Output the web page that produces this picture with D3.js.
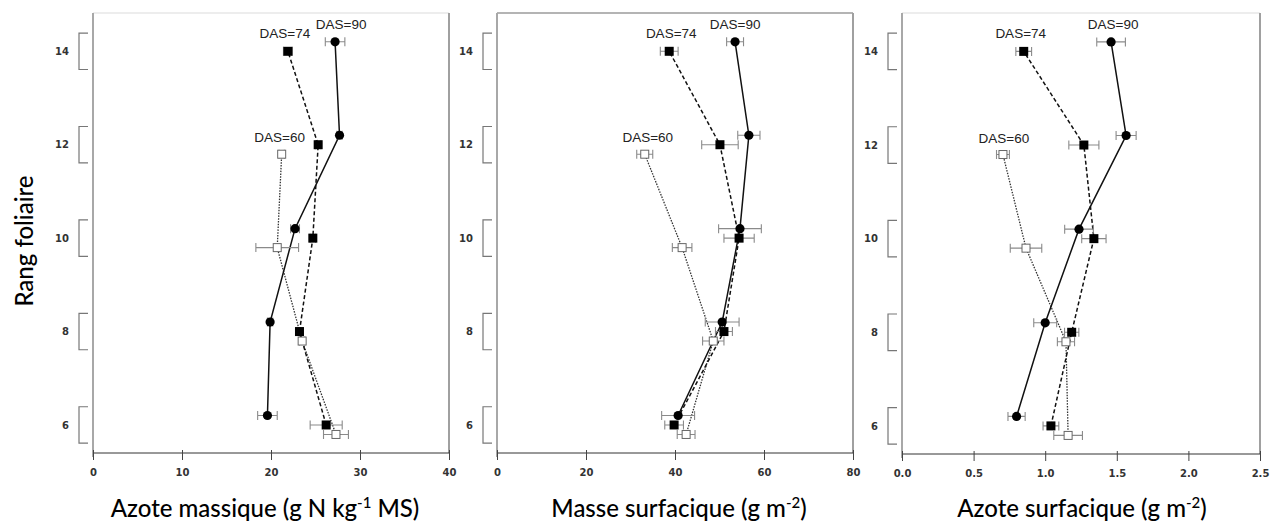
<!DOCTYPE html>
<html>
<head>
<meta charset="utf-8">
<script src="https://cdn.jsdelivr.net/npm/d3@7/dist/d3.min.js"></script>
<style>
  html, body { margin: 0; padding: 0; background: #fff; }
  svg { display: block; }
</style>
</head>
<body>
<svg id="chart" width="1270" height="524"></svg>
<script>
// ---------------- DATA ----------------
const rangs = [6, 8, 10, 12, 14];
const rangsDas60 = [6, 8, 10, 12];
const seriesNames = ["DAS=90", "DAS=74", "DAS=60"];

// Panel 1 : Azote massique (g N kg-1 MS)
const azoteMassique90 = [19.6, 19.9, 22.7, 27.7, 27.2];
const azoteMassique90Err = [1.1, 0.3, 0.5, 0.3, 1.1];
const azoteMassique74 = [26.2, 23.2, 24.7, 25.3, 21.9];
const azoteMassique74Err = [1.8, 0.3, 0.3, 0.3, 0.5];
const azoteMassique60 = [27.3, 23.5, 20.7, 21.2];
const azoteMassique60Err = [1.4, 0.3, 2.4, 0.3];

// Panel 2 : Masse surfacique (g m-2)
const masseSurf90 = [40.7, 50.6, 54.6, 56.6, 53.5];
const masseSurf90Err = [3.7, 3.8, 4.8, 2.5, 1.9];
const masseSurf74 = [39.8, 51.0, 54.4, 50.1, 38.7];
const masseSurf74Err = [2.1, 1.9, 3.4, 4.1, 2.0];
const masseSurf60 = [42.5, 48.6, 41.6, 33.2];
const masseSurf60Err = [2.0, 2.4, 2.2, 1.8];

// Panel 3 : Azote surfacique (g m-2)
const azoteSurf90 = [0.80, 1.00, 1.236, 1.565, 1.46];
const azoteSurf90Err = [0.06, 0.08, 0.10, 0.07, 0.10];
const azoteSurf74 = [1.04, 1.185, 1.34, 1.27, 0.85];
const azoteSurf74Err = [0.055, 0.05, 0.085, 0.105, 0.055];
const azoteSurf60 = [1.16, 1.145, 0.866, 0.705];
const azoteSurf60Err = [0.10, 0.06, 0.11, 0.045];

const xTicks1 = [0, 10, 20, 30, 40];
const xTicks2 = [0, 20, 40, 60, 80];
const xTicks3 = [0.0, 0.5, 1.0, 1.5, 2.0, 2.5];
const yTicks = [6, 8, 10, 12, 14];

const yTitle = "Rang foliaire";

// ---------------- LAYOUT ----------------
const svg = d3.select("#chart");
const topY = 13;
const yDomain = [5.40, 14.82];

const panels = [
  { left: 93, right: 449, bottom: 453, domain: [0, 40], ticks: xTicks1, fmt: d3.format("d"),
    title: ["Azote massique (g N kg", "-1", " MS)"], titleX: 265,
    s90: azoteMassique90, e90: azoteMassique90Err,
    s74: azoteMassique74, e74: azoteMassique74Err,
    s60: azoteMassique60, e60: azoteMassique60Err,
    topColor: "#dcdcdc", labelDx: [6, -3, -2] },
  { left: 497, right: 853, bottom: 453, domain: [0, 80], ticks: xTicks2, fmt: d3.format("d"),
    title: ["Masse surfacique (g m", "-2", ")"], titleX: 679,
    s90: masseSurf90, e90: masseSurf90Err,
    s74: masseSurf74, e74: masseSurf74Err,
    s60: masseSurf60, e60: masseSurf60Err,
    topColor: "#6a6a6a", labelDx: [0, 2, 3] },
  { left: 902, right: 1260, bottom: 454, domain: [0, 2.5], ticks: xTicks3, fmt: d3.format(".1f"),
    title: ["Azote surfacique (g m", "-2", ")"], titleX: 1082,
    s90: azoteSurf90, e90: azoteSurf90Err,
    s74: azoteSurf74, e74: azoteSurf74Err,
    s60: azoteSurf60, e60: azoteSurf60Err,
    topColor: "#dcdcdc", labelDx: [2, -3, 1] }
];

const offsets = { "DAS=90": 0.203, "DAS=74": 0, "DAS=60": -0.203 };

panels.forEach(p => {
  const g = svg.append("g");
  const x = d3.scaleLinear().domain(p.domain).range([p.left, p.right]);
  const yb = d3.scaleLinear().domain(yDomain).range([p.bottom, topY]);

  // frame
  g.append("line").attr("x1", p.left).attr("x2", p.right).attr("y1", topY).attr("y2", topY)
    .attr("stroke", p.topColor).attr("stroke-width", 1.2);
  g.append("line").attr("x1", p.right).attr("x2", p.right).attr("y1", topY).attr("y2", p.bottom)
    .attr("stroke", "#a0a0a0").attr("stroke-width", 2);
  g.append("line").attr("x1", p.left).attr("x2", p.left).attr("y1", topY).attr("y2", p.bottom + 4)
    .attr("stroke", "#a8a8a8").attr("stroke-width", 2);

  // x axis
  const xAxis = d3.axisBottom(x).tickValues(p.ticks).tickFormat(p.fmt).tickSize(7).tickPadding(9);
  const ax = g.append("g").attr("transform", `translate(0,${p.bottom})`).call(xAxis);
  ax.select(".domain").attr("stroke", "#333").attr("stroke-width", 1).attr("d", `M${p.left},0H${p.right}`);
  ax.selectAll(".tick line").attr("stroke", "#444").attr("y1", -3);
  ax.selectAll(".tick text").attr("font-family", "DejaVu Sans").attr("font-size", 10)
    .attr("fill", "#333").attr("font-weight", "bold");

  // y axis (labels + brackets)
  const yAxis = d3.axisLeft(yb).tickValues(yTicks).tickFormat(d3.format("d")).tickSize(0).tickPadding(24);
  const ay = g.append("g").attr("transform", `translate(${p.left},0)`).call(yAxis);
  ay.select(".domain").remove();
  ay.selectAll(".tick text").attr("font-family", "DejaVu Sans").attr("font-size", 10)
    .attr("fill", "#333").attr("font-weight", "bold");
  const bx = p.left - 14, bx2 = p.left - 5;
  g.selectAll(".bracket").data(yTicks).enter().append("path")
    .attr("fill", "none").attr("stroke", "#777").attr("stroke-width", 1.2)
    .attr("d", r => {
      const y0 = yb(r + 0.39), y1 = yb(r - 0.39);
      return `M${bx2},${y0}H${bx}V${y1}H${bx2}`;
    });

  // series
  const series = [
    { name: "DAS=60", r: rangsDas60, v: p.s60, e: p.e60 },
    { name: "DAS=74", r: rangs, v: p.s74, e: p.e74 },
    { name: "DAS=90", r: rangs, v: p.s90, e: p.e90 }
  ];
  const styles = {
    "DAS=90": { stroke: "#111", width: 1.5, dash: null },
    "DAS=74": { stroke: "#111", width: 1.5, dash: "4,2.5" },
    "DAS=60": { stroke: "#333", width: 1.3, dash: "1.5,1.3" }
  };
  const pts = s => s.r.map((r, i) => ({ y: yb(r + offsets[s.name]), x: x(s.v[i]), e: s.e[i], v: s.v[i], r }));
  const line = d3.line().x(d => d.x).y(d => d.y);

  series.forEach(s => {
    const st = styles[s.name];
    g.append("path").datum(pts(s)).attr("d", line).attr("fill", "none")
      .attr("stroke", st.stroke).attr("stroke-width", st.width)
      .attr("stroke-dasharray", st.dash);
  });
  // error bars
  series.forEach(s => {
    const eg = g.append("g").attr("stroke", "#8a8a8a").attr("stroke-width", 1.1).attr("fill", "none");
    pts(s).forEach(d => {
      const xl = x(d.v - d.e), xr = x(d.v + d.e);
      eg.append("path").attr("d", `M${xl},${d.y}H${xr}M${xl},${d.y - 4.5}V${d.y + 4.5}M${xr},${d.y - 4.5}V${d.y + 4.5}`);
    });
  });
  // markers
  series.forEach(s => {
    pts(s).forEach(d => {
      if (s.name === "DAS=90") {
        g.append("circle").attr("cx", d.x).attr("cy", d.y).attr("r", 4.6).attr("fill", "#000");
      } else if (s.name === "DAS=74") {
        g.append("rect").attr("x", d.x - 4.5).attr("y", d.y - 4.5).attr("width", 9).attr("height", 9).attr("fill", "#000");
      } else {
        g.append("rect").attr("x", d.x - 4).attr("y", d.y - 4).attr("width", 8).attr("height", 8)
          .attr("fill", "#fff").attr("stroke", "#666").attr("stroke-width", 1);
      }
    });
  });

  // series labels
  const lab = [
    { name: "DAS=90", x: x(p.s90[4]) + p.labelDx[0], y: yb(14 + offsets["DAS=90"]) - 13 },
    { name: "DAS=74", x: x(p.s74[4]) + p.labelDx[1], y: yb(14) - 13 },
    { name: "DAS=60", x: x(p.s60[3]) + p.labelDx[2], y: yb(12 + offsets["DAS=60"]) - 12 }
  ];
  g.selectAll(".lab").data(lab).enter().append("text")
    .attr("x", d => d.x).attr("y", d => d.y).attr("text-anchor", "middle")
    .attr("font-family", "Liberation Sans, Arial, sans-serif").attr("font-size", 13.5)
    .attr("fill", "#222").text(d => d.name);

  // x title
  const t = g.append("text").attr("x", p.titleX).attr("y", 517).attr("text-anchor", "middle")
    .attr("font-family", "Lato, sans-serif").attr("font-size", 24).attr("font-weight", 500)
    .attr("fill", "#000");
  t.append("tspan").text(p.title[0]);
  t.append("tspan").attr("font-size", 15).attr("dy", -9).text(p.title[1]);
  t.append("tspan").attr("dy", 9).text(p.title[2]);
});

// y title
svg.append("text").attr("transform", "translate(33,241) rotate(-90)").attr("text-anchor", "middle")
  .attr("font-family", "Lato, sans-serif").attr("font-size", 24).attr("font-weight", 500)
  .attr("fill", "#000").text(yTitle);
</script>
</body>
</html>
